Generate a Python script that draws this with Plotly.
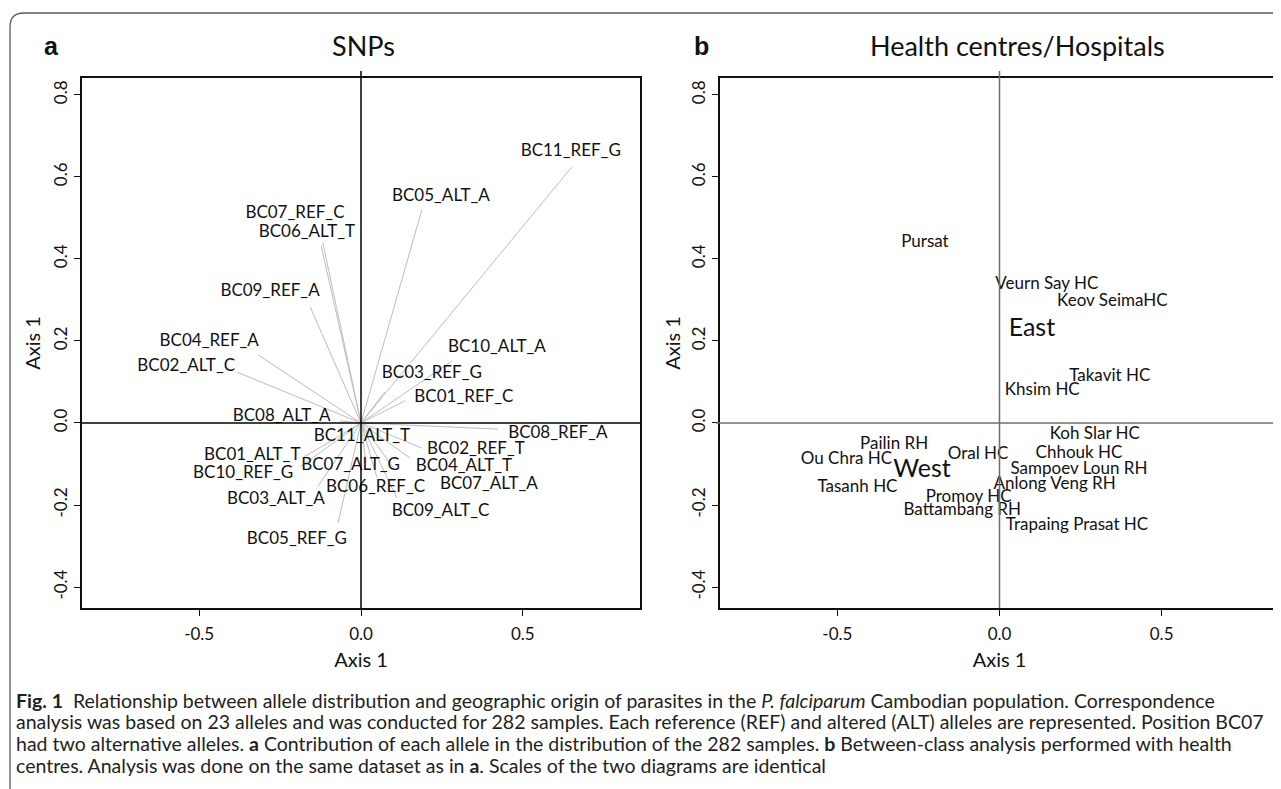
import plotly.graph_objects as go

# page body has an 8px margin; the figure is sized to fill the rest of the window
OFF = 8
W, H = 1281 - OFF, 789 - OFF

# ---------------- Panel a: SNP alleles (arrow tips and label anchors) -------
alleles = ["BC11_REF_G", "BC05_ALT_A", "BC07_REF_C", "BC06_ALT_T", "BC09_REF_A",
           "BC04_REF_A", "BC02_ALT_C", "BC10_ALT_A", "BC03_REF_G", "BC01_REF_C",
           "BC08_ALT_A", "BC08_REF_A", "BC11_ALT_T", "BC02_REF_T", "BC04_ALT_T",
           "BC07_ALT_A", "BC09_ALT_C", "BC06_REF_C", "BC07_ALT_G", "BC01_ALT_T",
           "BC10_REF_G", "BC03_ALT_A", "BC05_REF_G"]
tip_x = [0.651, 0.188, -0.118, -0.123, -0.157, -0.318, -0.383, 0.281, 0.074, 0.136,
         -0.065, 0.423, 0.010, 0.188, 0.151, 0.105, 0.111, 0.049, 0.015, -0.176,
         -0.188, -0.133, -0.071]
tip_y = [0.624, 0.520, 0.440, 0.432, 0.283, 0.166, 0.124, 0.151, 0.076, 0.054,
         0.005, -0.015, -0.020, -0.061, -0.085, -0.115, -0.183, -0.132, -0.095, -0.083,
         -0.107, -0.154, -0.244]
lab_x = [0.648, 0.247, -0.204, -0.167, -0.281, -0.469, -0.540, 0.420, 0.219, 0.318,
         -0.245, 0.608, 0.003, 0.355, 0.318, 0.395, 0.246, 0.045, -0.032, -0.336,
         -0.364, -0.263, -0.198]
lab_y = [0.661, 0.551, 0.509, 0.463, 0.320, 0.198, 0.137, 0.183, 0.120, 0.061,
         0.015, -0.027, -0.033, -0.066, -0.107, -0.151, -0.216, -0.158, -0.104, -0.080,
         -0.124, -0.188, -0.284]

# ---------------- Panel b: health centres / hospitals ----------------------
centres = ["Pursat", "Veurn Say HC", "Keov SeimaHC", "Takavit HC", "Khsim HC",
           "Koh Slar HC", "Pailin RH", "Ou Chra HC", "Oral HC", "Chhouk HC",
           "Sampoev Loun RH", "Anlong Veng RH", "Tasanh HC", "Promoy HC",
           "Battambang RH", "Trapaing Prasat HC"]
centre_x = [-0.230, 0.146, 0.348, 0.340, 0.132, 0.294, -0.325, -0.472, -0.066, 0.245,
            0.245, 0.170, -0.438, -0.095, -0.115, 0.239]
centre_y = [0.439, 0.337, 0.295, 0.113, 0.079, -0.028, -0.054, -0.089, -0.078, -0.074,
            -0.115, -0.150, -0.159, -0.182, -0.215, -0.251]
regions = ["East", "West"]
region_x = [0.100, -0.239]
region_y = [0.227, -0.116]

x_ticks = [-0.5, 0.0, 0.5]
y_ticks = [-0.4, -0.2, 0.0, 0.2, 0.4, 0.6, 0.8]
x_range = [-0.862, 0.862]
y_range = [-0.451, 0.841]

caption_lines = [
    "<b>Fig. 1</b>  Relationship between allele distribution and geographic origin of parasites in the <i>P. falciparum</i> Cambodian population. Correspondence",
    "analysis was based on 23 alleles and was conducted for 282 samples. Each reference (REF) and altered (ALT) alleles are represented. Position BC07",
    "had two alternative alleles. <b>a</b> Contribution of each allele in the distribution of the 282 samples. <b>b</b> Between-class analysis performed with health",
    "centres. Analysis was done on the same dataset as in <b>a</b>. Scales of the two diagrams are identical",
]

FONT = "Lato, Carlito, Open Sans, sans-serif"
INK = "#111111"


def px_x(p):
    return (p - OFF) / W


def px_y(p):
    return 1 - (p - OFF) / H


fig = go.Figure()

# arrows (segments from origin)
seg_x, seg_y = [], []
for x, y in zip(tip_x, tip_y):
    seg_x += [0, x, None]
    seg_y += [0, y, None]
fig.add_trace(go.Scatter(x=seg_x, y=seg_y, mode="lines",
                         line=dict(color="#bdbdbd", width=1),
                         hoverinfo="skip", showlegend=False, xaxis="x", yaxis="y"))
fig.add_trace(go.Scatter(x=lab_x, y=lab_y, mode="text", text=alleles,
                         textposition="middle center",
                         textfont=dict(family=FONT, size=17, color=INK),
                         showlegend=False, xaxis="x", yaxis="y", cliponaxis=False))

fig.add_trace(go.Scatter(x=centre_x, y=centre_y, mode="text", text=centres,
                         textposition="middle center",
                         textfont=dict(family=FONT, size=17, color=INK),
                         showlegend=False, xaxis="x2", yaxis="y2", cliponaxis=False))
fig.add_trace(go.Scatter(x=region_x, y=region_y, mode="text", text=regions,
                         textposition="middle center",
                         textfont=dict(family=FONT, size=25, color=INK),
                         showlegend=False, xaxis="x2", yaxis="y2", cliponaxis=False))

box_top, box_bot = 78, 608
ydom = [px_y(box_bot), px_y(box_top)]

axis_common = dict(showgrid=False, zeroline=False, showline=True,
                   linecolor=INK, linewidth=1.5, mirror=True, ticks="outside",
                   ticklen=6, tickwidth=1, tickcolor=INK,
                   tickfont=dict(family=FONT, size=17, color=INK))

xa = dict(axis_common, range=x_range, tickvals=x_ticks,
          ticktext=[f"{v:.1f}" for v in x_ticks], ticklabelstandoff=4,
          title=dict(text="Axis 1", font=dict(family=FONT, size=20, color=INK), standoff=10))


def ya(standoff):
    return dict(axis_common, range=y_range, tickvals=y_ticks,
                ticktext=[f"{v:.1f}" for v in y_ticks], tickangle=-90,
                title=dict(text="Axis 1", font=dict(family=FONT, size=20, color=INK),
                           standoff=standoff))


fig.update_layout(
    width=W, height=H, margin=dict(l=0, r=0, t=0, b=0),
    paper_bgcolor="white", plot_bgcolor="white",
    xaxis=dict(xa, domain=[px_x(82), px_x(640)], anchor="y"),
    yaxis=dict(ya(4), domain=ydom, anchor="x"),
    xaxis2=dict(xa, domain=[px_x(720), px_x(1279)], anchor="y2"),
    yaxis2=dict(ya(2), domain=ydom, anchor="x2"),
)

# zero lines
top_ext = px_y(71)
shapes = [
    dict(type="line", xref="x", yref="paper", x0=0, x1=0, y0=ydom[0], y1=top_ext,
         line=dict(color="#000000", width=1.5)),
    dict(type="line", xref="paper", yref="y", x0=px_x(82), x1=px_x(640), y0=0, y1=0,
         line=dict(color="#000000", width=1.5)),
    dict(type="line", xref="x2", yref="paper", x0=0, x1=0, y0=ydom[0], y1=top_ext,
         line=dict(color="#6e6e6e", width=1.5)),
    dict(type="line", xref="paper", yref="y2", x0=px_x(716), x1=px_x(1279), y0=0, y1=0,
         line=dict(color="#6e6e6e", width=1.5)),
]
# outer rounded frame
r = 14
fx, fy = 10, 13
path = (f"M {px_x(fx)},{px_y(800)} L {px_x(fx)},{px_y(fy + r)} "
        f"Q {px_x(fx)},{px_y(fy)} {px_x(fx + r)},{px_y(fy)} L {px_x(1295)},{px_y(fy)}")
shapes.append(dict(type="path", xref="paper", yref="paper", path=path,
                   line=dict(color="#5a5a5a", width=1.3)))
fig.update_layout(shapes=shapes)

ann = []
ann.append(dict(text="SNPs", x=px_x(363), y=px_y(45), xref="paper", yref="paper",
                showarrow=False, font=dict(family=FONT, size=27, color=INK),
                xanchor="center", yanchor="middle"))
ann.append(dict(text="Health centres/Hospitals", x=px_x(1017), y=px_y(45), xref="paper",
                yref="paper", showarrow=False, font=dict(family=FONT, size=27, color=INK),
                xanchor="center", yanchor="middle"))
for letter, xp in (("a", 51), ("b", 701)):
    ann.append(dict(text=f"<b>{letter}</b>", x=px_x(xp), y=px_y(46), xref="paper",
                    yref="paper", showarrow=False,
                    font=dict(family="Liberation Sans, Arial, sans-serif", size=25, color=INK),
                    xanchor="center", yanchor="middle"))
for i, line in enumerate(caption_lines):
    ann.append(dict(text=line, x=px_x(14), y=px_y(700 + i * 21.8), xref="paper", yref="paper",
                    showarrow=False, font=dict(family=FONT, size=19.5, color="#231f20"),
                    xanchor="left", yanchor="middle", align="left"))
fig.update_layout(annotations=ann)

fig.write_html("out.html")
